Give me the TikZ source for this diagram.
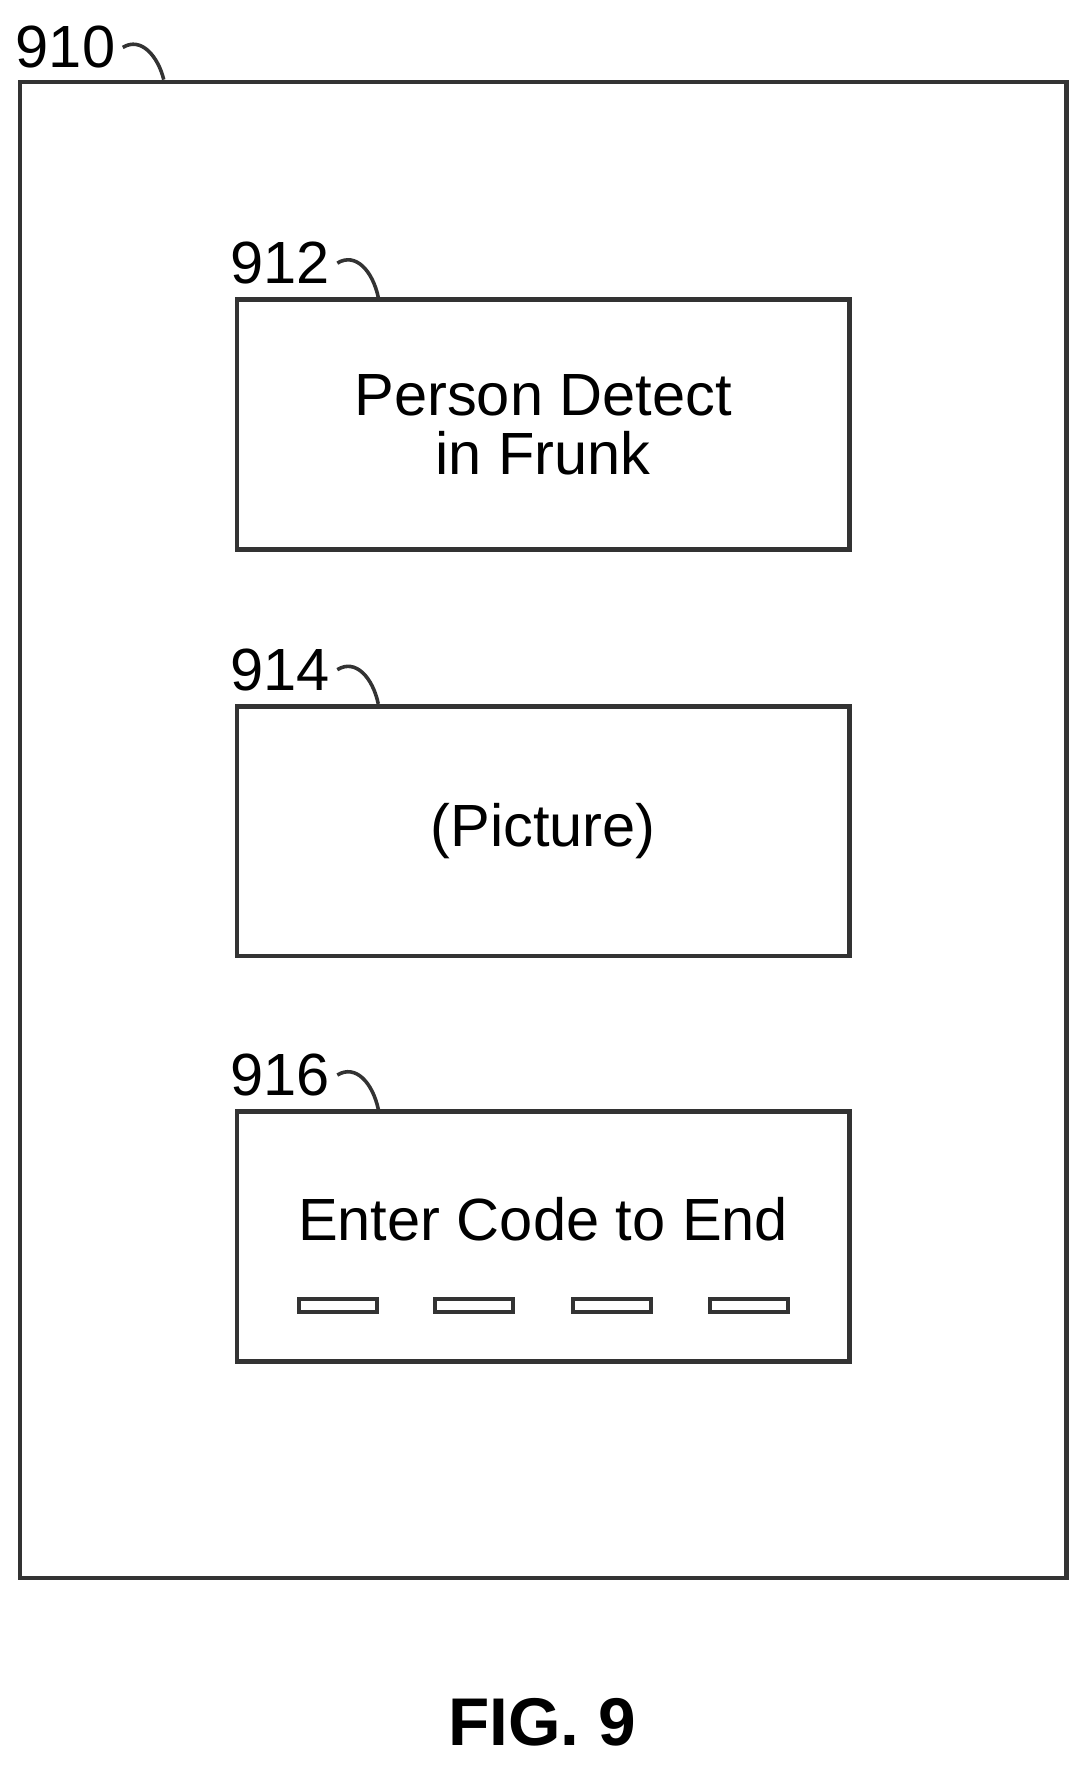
\documentclass[tikz,border=0pt]{standalone}
\usepackage{fontspec}
\setmainfont{Liberation Sans}
\usepackage{tikz}
\usetikzlibrary{positioning,calc}

\begin{document}
\begin{tikzpicture}[
    x=0.01cm, y=-0.01cm,
    frame/.style={rectangle, draw=black!80, line width=1.2pt, minimum width=5.42cm, minimum height=2.21cm, align=center, font=\fontsize{15}{17}\selectfont},
    refnum/.style={font=\fontsize{15}{17}\selectfont, inner sep=0pt},
    leader/.style={draw=black!80, line width=0.9pt},
    slot/.style={rectangle, draw=black!80, line width=1pt, minimum width=0.69cm, minimum height=0.12cm, inner sep=0pt}
]
\useasboundingbox (0,0) rectangle (960,1563);

% Outer screen
\node[draw=black!80, line width=1.2pt, rectangle, minimum width=9.26cm, minimum height=13.24cm] (screen) at (481,735) {};
\node[refnum] (n910) at (58,42) {910};
\draw[leader] ($(n910.east)+(6,0)$) .. controls (125,32) and (140,50) .. (screen.north west -| 145,0);

% Boxes
\node[frame] (detect) at (481,376) {Person Detect\\[-2pt]in Frunk};
\node[frame] (picture) at (481,736) {(Picture)};
\node[frame] (code) at (481,1095) {};
\node[font=\fontsize{15}{17}\selectfont] (codetext) at (481,1080) {Enter Code to End};

% Reference numerals
\node[refnum] (n912) at (248,233) {912};
\draw[leader] ($(n912.east)+(6,0)$) .. controls (315,223) and (330,240) .. (detect.north west -| 335,0);
\node[refnum] (n914) at (248,593) {914};
\draw[leader] ($(n914.east)+(6,0)$) .. controls (315,583) and (330,600) .. (picture.north west -| 335,0);
\node[refnum] (n916) at (248,952) {916};
\draw[leader] ($(n916.east)+(6,0)$) .. controls (315,942) and (330,959) .. (code.north west -| 335,0);

% Code slots
\foreach \i/\xc in {1/299, 2/420, 3/542, 4/663}
  \node[slot] (slot\i) at (\xc,1156) {};

% Caption
\node[font=\bfseries\fontsize{17}{20}\selectfont] (caption) at (480,1525) {FIG. 9};
\end{tikzpicture}
\end{document}
